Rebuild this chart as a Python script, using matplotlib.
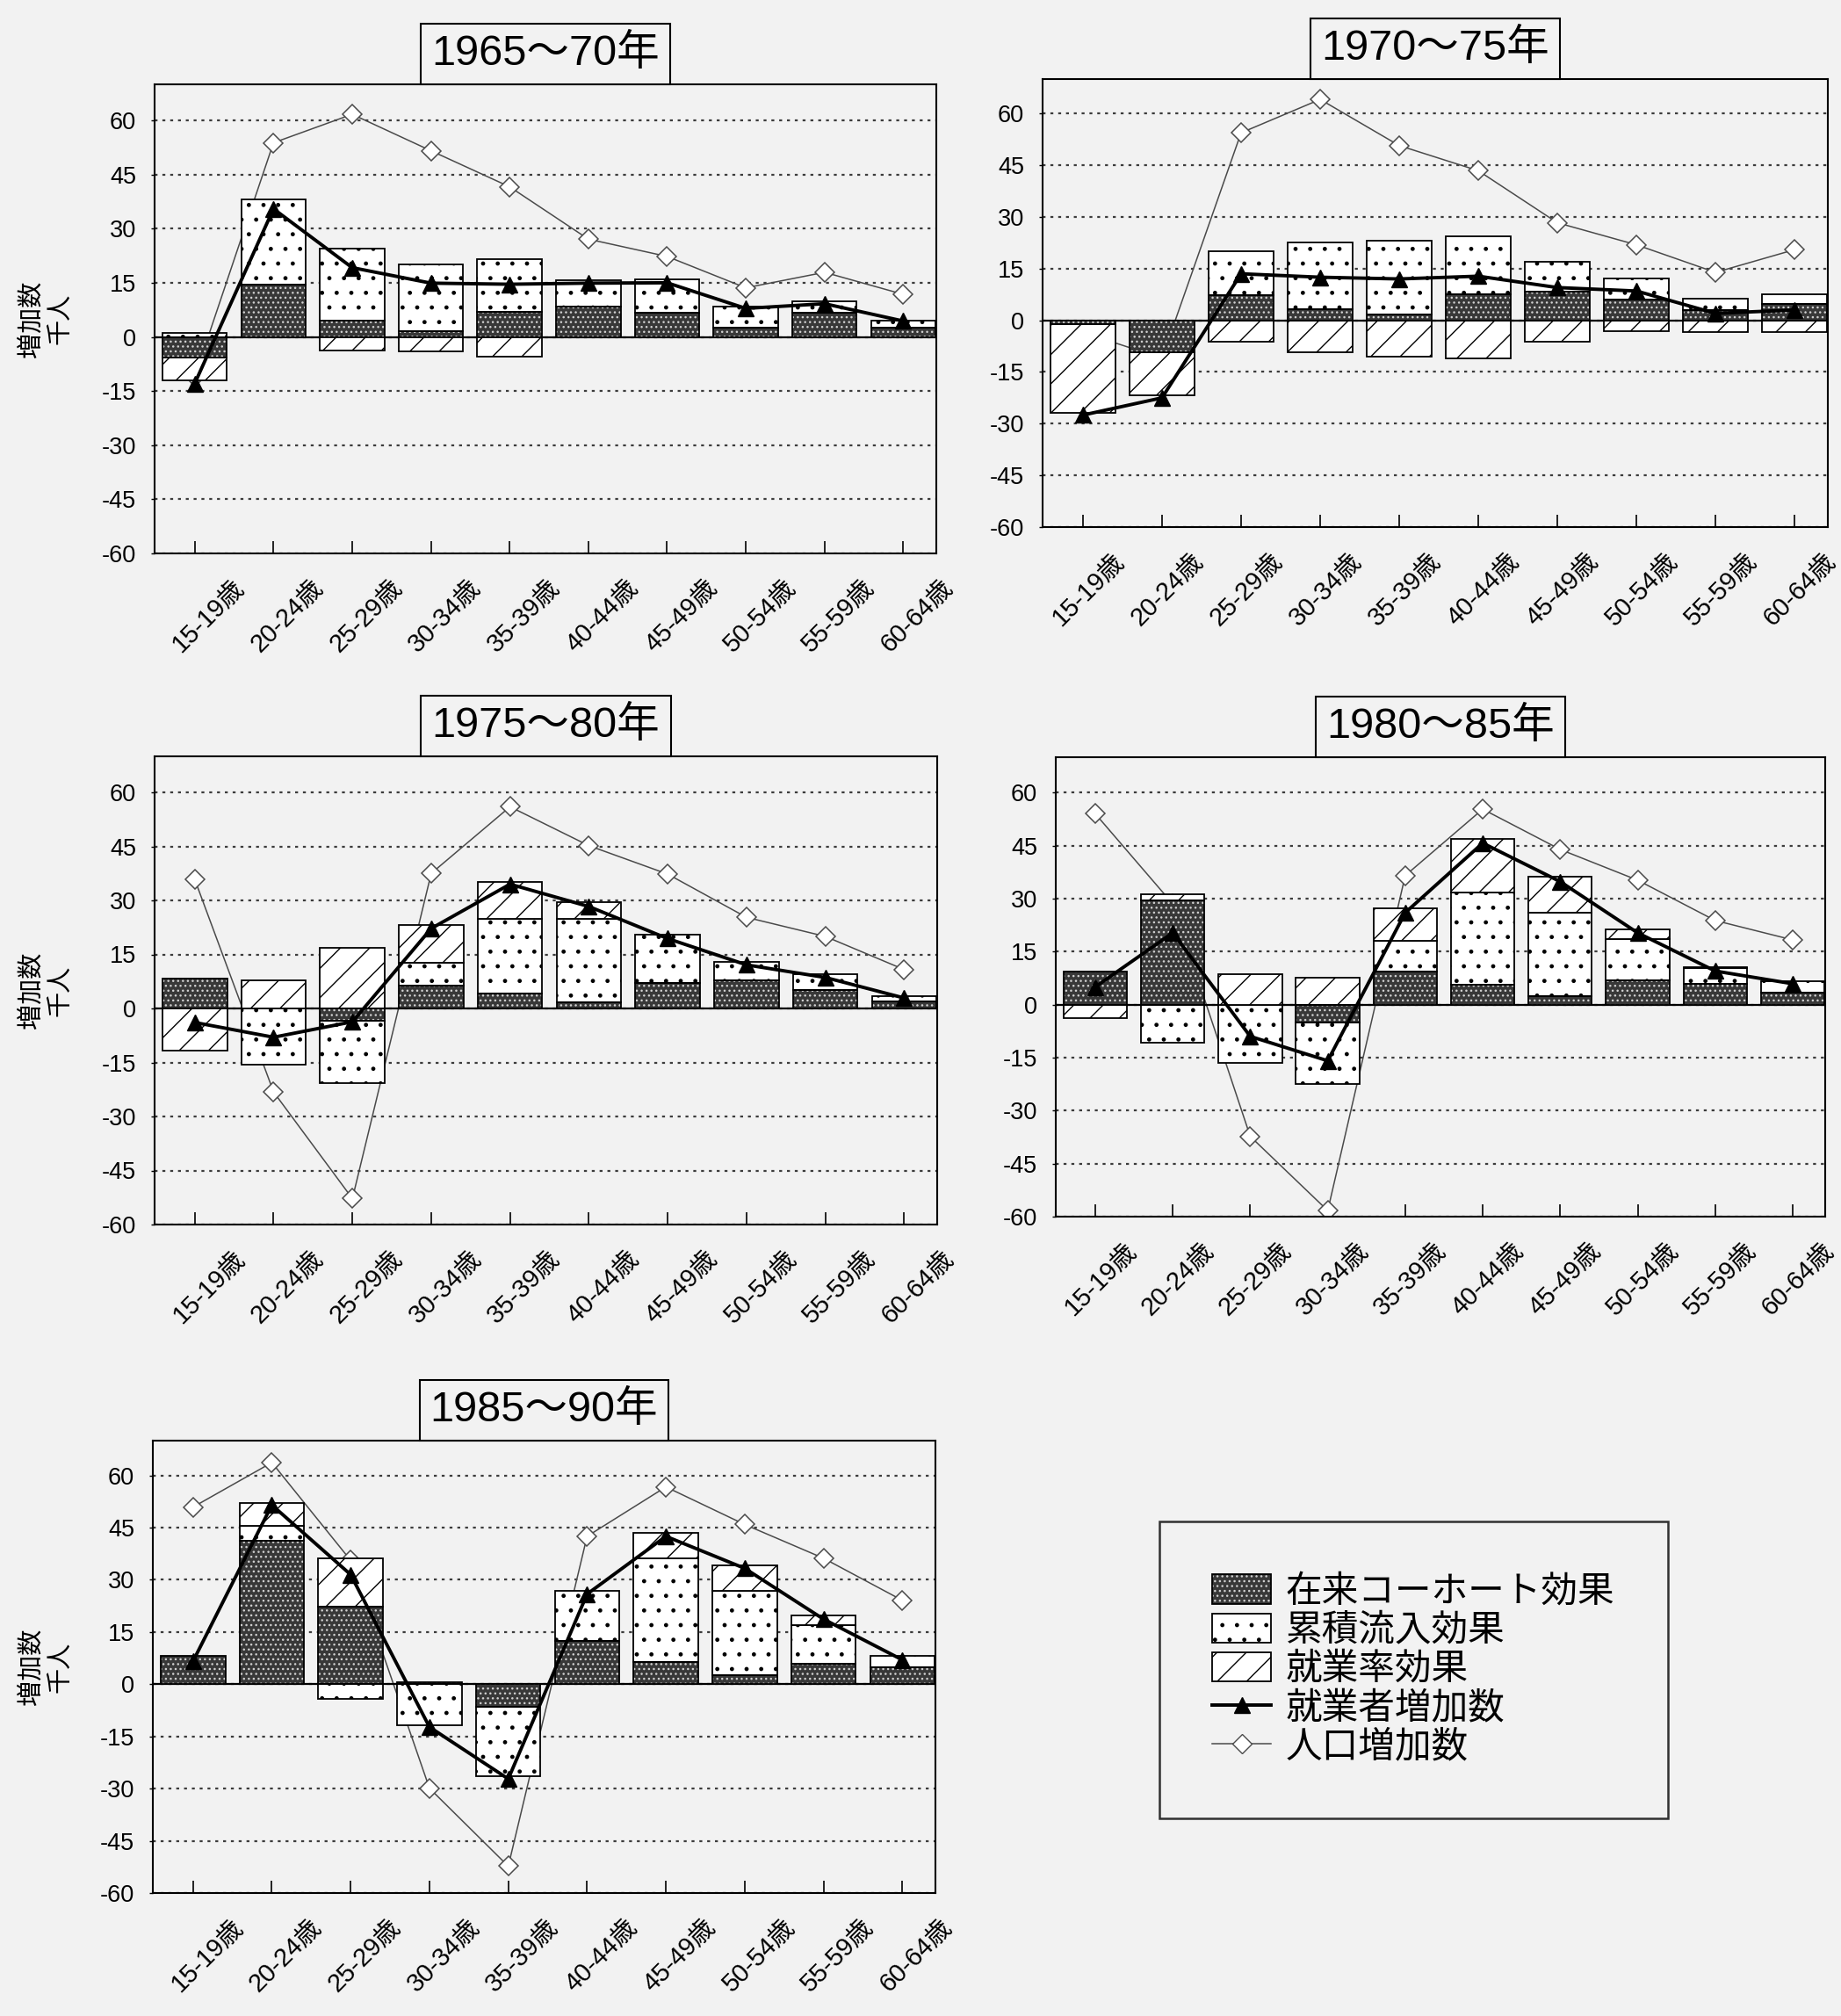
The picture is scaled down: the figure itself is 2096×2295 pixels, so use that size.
import numpy as np
import matplotlib
matplotlib.use("Agg")
import matplotlib.pyplot as plt
import matplotlib.transforms as mtransforms
from matplotlib.patches import Patch
from matplotlib.lines import Line2D

plt.rcParams['font.family'] = ['Liberation Sans', 'Noto Sans CJK JP']
plt.rcParams['hatch.linewidth'] = 1.0

BG = '#f2f2f2'

ages = ['15-19歳', '20-24歳', '25-29歳', '30-34歳', '35-39歳',
        '40-44歳', '45-49歳', '50-54歳', '55-59歳', '60-64歳']
titles = ['1965〜70年', '1970〜75年', '1975〜80年', '1980〜85年', '1985〜90年']
series_names = ['在来コーホート効果', '累積流入効果', '就業率効果', '就業者増加数', '人口増加数']
yticks = [-60, -45, -30, -15, 0, 15, 30, 45, 60]
ylabel = '増加数\n千人'

# 1965-70
cohort_6570 = [-5.6, 14.4, 4.4, 1.7, 7.0, 8.5, 6.6, 2.6, 6.6, 2.6]
inflow_6570 = [1.2, 23.7, 20.0, 18.4, 14.6, 7.2, 9.4, 5.7, 3.3, 1.9]
rate_6570 = [-6.4, 0, -3.7, -3.9, -5.5, 0, 0, 0, 0, 0]
employed_6570 = [-12.9, 35.5, 19.2, 14.9, 14.6, 14.9, 15.0, 7.9, 9.2, 4.4]
population_6570 = [-11.0, 53.8, 61.7, 51.6, 41.6, 27.1, 22.3, 13.6, 17.9, 11.8]

# 1970-75
cohort_7075 = [-1.0, -9.4, 7.3, 3.3, 1.6, 7.5, 8.2, 6.0, 2.9, 4.7]
inflow_7075 = [0, 0, 12.8, 19.2, 21.6, 16.8, 8.8, 6.2, 3.5, 2.8]
rate_7075 = [-25.9, -12.3, -6.3, -9.4, -10.5, -11.0, -6.3, -3.1, -3.4, -3.4]
employed_7075 = [-27.5, -22.5, 13.5, 12.5, 12.0, 12.8, 9.5, 8.5, 2.0, 3.0]
population_7075 = [-3.5, -11.0, 54.4, 64.1, 50.7, 43.4, 28.3, 21.9, 13.9, 20.5]

# 1975-80
cohort_7580 = [8.2, 0, -3.5, 6.4, 4.2, 1.6, 7.1, 7.7, 5.1, 2.0]
inflow_7580 = [0, -15.5, -17.3, 6.3, 20.8, 23.4, 13.3, 5.3, 4.4, 1.3]
rate_7580 = [-11.6, 7.7, 16.9, 10.4, 10.2, 4.4, 0, 0, 0, 0]
employed_7580 = [-3.9, -8.0, -3.7, 22.2, 34.5, 28.3, 19.4, 12.1, 8.6, 2.9]
population_7580 = [35.8, -23.2, -52.8, 37.5, 56.0, 45.2, 37.3, 25.3, 20.0, 10.8]

# 1980-85
cohort_8085 = [9.4, 29.5, 0, -5.0, 9.4, 5.5, 2.3, 6.8, 5.9, 3.3]
inflow_8085 = [0, -10.7, -16.6, -17.5, 8.6, 26.2, 23.7, 11.8, 4.4, 3.3]
rate_8085 = [-3.7, 1.8, 8.6, 7.5, 9.3, 15.1, 10.1, 2.6, 0.4, 0]
employed_8085 = [5.0, 20.3, -9.0, -15.9, 26.0, 45.7, 34.8, 20.3, 9.5, 5.9]
population_8085 = [54.0, 28.5, -37.3, -58.3, 36.5, 55.3, 43.9, 35.2, 23.8, 18.3]

# 1985-90
cohort_8590 = [8.1, 41.2, 22.3, 0.5, -6.5, 12.4, 6.4, 2.5, 5.9, 4.8]
inflow_8590 = [0, 4.3, -4.2, -11.9, -19.9, 14.4, 29.8, 24.3, 11.2, 3.3]
rate_8590 = [0, 6.7, 13.9, 0, 0, 0, 7.2, 7.4, 2.7, 0]
employed_8590 = [6.6, 51.5, 31.5, -12.3, -27.2, 25.9, 42.5, 33.3, 18.7, 7.0]
population_8590 = [50.9, 63.7, 35.6, -29.9, -52.3, 42.5, 56.7, 45.9, 36.2, 24.1]

W, H = 2096, 2295
fig = plt.figure(figsize=(W / 100, H / 100), dpi=100, facecolor=BG)


def rect(left, right, top, bottom):
    return [left / W, 1 - bottom / H, (right - left) / W, (bottom - top) / H]


panels = [
    (titles[0], cohort_6570, inflow_6570, rate_6570, employed_6570, population_6570, rect(176, 1066, 96, 630), True),
    (titles[1], cohort_7075, inflow_7075, rate_7075, employed_7075, population_7075, rect(1187, 2081, 90, 600), False),
    (titles[2], cohort_7580, inflow_7580, rate_7580, employed_7580, population_7580, rect(176, 1067, 861, 1394), True),
    (titles[3], cohort_8085, inflow_8085, rate_8085, employed_8085, population_8085, rect(1202, 2078, 862, 1385), False),
    (titles[4], cohort_8590, inflow_8590, rate_8590, employed_8590, population_8590, rect(174, 1065, 1640, 2155), True),
]

BW = 0.82
DARK = '#383838'
DOTS_LIGHT = '#d0d0d0'


def draw_segment(ax, x, h, b, kind):
    if kind == 0:
        ax.bar(x, h, BW, bottom=b, color=DARK, edgecolor=DOTS_LIGHT, hatch='...', linewidth=0, zorder=3)
        ax.bar(x, h, BW, bottom=b, fill=False, edgecolor='black', linewidth=1.3, zorder=3.2)
    elif kind == 1:
        ax.bar(x, h, BW, bottom=b, color='white', edgecolor='black', hatch='.', linewidth=1.3, zorder=3)
    else:
        ax.bar(x, h, BW, bottom=b, color='white', edgecolor='black', hatch='/', linewidth=1.3, zorder=3)


for title, coh, inf, rat, emp, pop, r, show_ylabel in panels:
    ax = fig.add_axes(r)
    ax.set_facecolor(BG)
    x = np.arange(len(ages))
    pos = np.zeros(len(ages))
    neg = np.zeros(len(ages))
    for kind, vals in enumerate([coh, inf, rat]):
        v = np.array(vals, dtype=float)
        for i in range(len(v)):
            if v[i] == 0:
                continue
            b = pos[i] if v[i] > 0 else neg[i]
            draw_segment(ax, x[i], v[i], b, kind)
            if v[i] > 0:
                pos[i] += v[i]
            else:
                neg[i] += v[i]

    ax.plot(x, pop, color='#4a4a4a', linewidth=1.1, marker='D', markersize=11.5,
            markerfacecolor='white', markeredgecolor='#4a4a4a', markeredgewidth=1.1, zorder=2.5)
    ax.plot(x, emp, color='black', linewidth=2.8, marker='^', markersize=13,
            markerfacecolor='black', markeredgecolor='black', zorder=5)

    ax.axhline(0, color='black', linewidth=1.6, zorder=2.8)
    ax.set_ylim(-60, 70)
    ax.set_xlim(-0.51, 9.42)
    ax.set_yticks(yticks)
    ax.set_yticklabels([str(t) for t in yticks], fontsize=19.5)
    ax.yaxis.grid(True, linestyle=(0, (1.5, 2.5)), color='#3c3c3c', linewidth=1.6, zorder=0)
    ax.set_axisbelow(True)
    ax.tick_params(axis='y', direction='out', length=3, width=1.0, pad=12)
    ax.set_xticks(x)
    ax.set_xticklabels(ages, rotation=45, ha='center', va='top', fontsize=21)
    ax.tick_params(axis='x', direction='in', length=10, width=1.2, pad=18)
    shift_px = 16 if show_ylabel else 6
    shift = mtransforms.ScaledTranslation(shift_px / 100, 0, fig.dpi_scale_trans)
    for lab in ax.get_xticklabels():
        lab.set_transform(lab.get_transform() + shift)
    for s in ax.spines.values():
        s.set_linewidth(1.5)
        s.set_color('black')

    ax.annotate(title, xy=(0.5, 1.0), xycoords='axes fraction', xytext=(0, 8.5),
                textcoords='offset points', ha='center', va='bottom', fontsize=35,
                bbox=dict(boxstyle='square,pad=0.25', facecolor=BG, edgecolor='black', linewidth=1.5))

    if show_ylabel:
        pos_ax = ax.get_position()
        fig.text(52 / W, pos_ax.y0 + pos_ax.height / 2, ylabel, rotation=90, ha='center', va='center',
                 fontsize=21, linespacing=1.25, multialignment='center')

handles = [
    (Patch(facecolor=DARK, edgecolor=DOTS_LIGHT, hatch='...', linewidth=0),
     Patch(fill=False, edgecolor='black', linewidth=1.3)),
    Patch(facecolor='white', edgecolor='black', hatch='.', linewidth=1.3),
    Patch(facecolor='white', edgecolor='black', hatch='/', linewidth=1.3),
    Line2D([], [], color='black', linewidth=2.8, marker='^', markersize=13),
    Line2D([], [], color='#4a4a4a', linewidth=1.1, marker='D', markersize=11.5,
           markerfacecolor='white', markeredgecolor='#4a4a4a'),
]
leg = fig.legend(handles, series_names, loc='upper left', bbox_to_anchor=(1320 / W, 1 - 1732 / H),
                 frameon=True, fancybox=False, edgecolor='black', facecolor=BG, fontsize=30,
                 handlelength=1.6, handleheight=0.85, handletextpad=0.4, labelspacing=0.1,
                 borderpad=1.45, borderaxespad=0)
leg.get_frame().set_linewidth(1.8)

fig.savefig('out.png', dpi=100, facecolor=BG)
